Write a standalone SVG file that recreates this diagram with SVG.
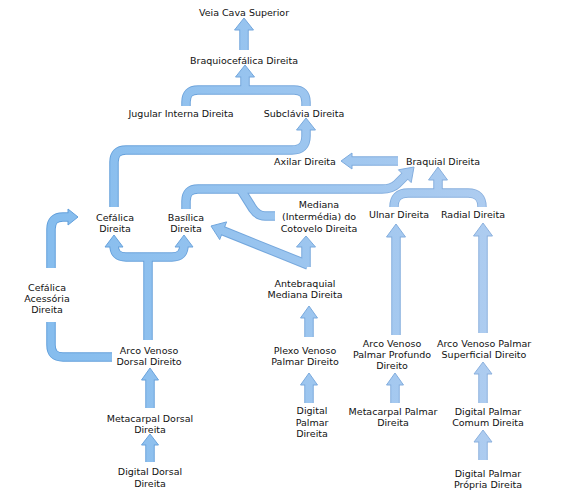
<svg xmlns="http://www.w3.org/2000/svg" width="562" height="502" viewBox="0 0 562 502">
<style>
text{font-family:"DejaVu Sans","Liberation Sans",sans-serif;font-size:9.5px;fill:#111;text-anchor:middle}
.ol{fill:none;stroke:url(#gl);stroke-width:9.5}
.in{fill:none;stroke:url(#gf);stroke-width:7.5}
.hd{fill:url(#gf);stroke:url(#gl);stroke-width:1;stroke-linejoin:miter}
</style>
<defs>
<linearGradient id="gf" gradientUnits="userSpaceOnUse" x1="60" y1="0" x2="520" y2="0">
<stop offset="0" stop-color="#86bdee"/><stop offset="1" stop-color="#b0cdf0"/>
</linearGradient>
<linearGradient id="gl" gradientUnits="userSpaceOnUse" x1="60" y1="0" x2="520" y2="0">
<stop offset="0" stop-color="#5f9edb"/><stop offset="1" stop-color="#8fb2de"/>
</linearGradient>
<path id="c1" d="M244,50 V28"/>
<path id="c2" d="M186,106 V102 Q186,90 198,90 H294 Q306,90 306,102 V106 M245,90 V75"/>
<path id="c3" d="M114,207 V162 Q114,150 126,150 H292 Q306,150 306,136 V128"/>
<path id="c4" d="M398,161 H350"/>
<path id="c5" d="M186,209 V201 Q186,189 198,189 H382 Q392,189 397,184 L406,175"/>
<path id="c6" d="M241,190 L253,209 Q258,216 265,216 H275"/>
<path id="c7" d="M308,265 L221,230"/>
<path id="c8" d="M306,267 V245"/>
<path id="c9" d="M394,207 Q394,193 408,193 H468 Q482,193 482,207 M438,193 V178"/>
<path id="c10" d="M396,335 V235"/>
<path id="c11" d="M483,333 V234"/>
<path id="c12" d="M51,268 V229 Q51,217 63,217 H70"/>
<path id="c13" d="M112,357 H63 Q51,357 51,345 V322"/>
<path id="c14" d="M148,340 V257 M114,245 Q114,257 126,257 H172 Q184,257 184,245"/>
<path id="c15" d="M150,408 V378"/>
<path id="c16" d="M150,462 V443"/>
<path id="c17" d="M309,337 V316"/>
<path id="c18" d="M309,403 V383"/>
<path id="c19" d="M395,403 V383"/>
<path id="c20" d="M483,403 V372"/>
<path id="c21" d="M483,460 V440"/>
</defs>
<rect width="562" height="502" fill="#ffffff"/>
<g id="connectors">
<g id="outlines">
<use href="#c1" class="ol"/><use href="#c2" class="ol"/><use href="#c3" class="ol"/><use href="#c4" class="ol"/>
<use href="#c5" class="ol"/><use href="#c6" class="ol"/><use href="#c7" class="ol"/><use href="#c8" class="ol"/>
<use href="#c9" class="ol"/><use href="#c10" class="ol"/><use href="#c11" class="ol"/><use href="#c12" class="ol"/>
<use href="#c13" class="ol"/><use href="#c14" class="ol"/><use href="#c15" class="ol"/><use href="#c16" class="ol"/>
<use href="#c17" class="ol"/><use href="#c18" class="ol"/><use href="#c19" class="ol"/><use href="#c20" class="ol"/>
<use href="#c21" class="ol"/>
</g>
<g id="heads">
<polygon class="hd" points="244,18 253.5,30 234.5,30"/>
<polygon class="hd" points="245,65 254.5,77 235.5,77"/>
<polygon class="hd" points="306,118 315.5,130 296.5,130"/>
<polygon class="hd" points="341,161 352,153 352,169"/>
<polygon class="hd" points="414,167 411.2,182.6 398.4,169.8"/>
<polygon class="hd" points="211,226 226.6,221.9 219.7,239.6"/>
<polygon class="hd" points="306,236 315.5,247 296.5,247"/>
<polygon class="hd" points="438,167 447.5,180 428.5,180"/>
<polygon class="hd" points="396,224 405.5,237 386.5,237"/>
<polygon class="hd" points="483,223 492.5,236 473.5,236"/>
<polygon class="hd" points="78,217 68,209 68,225"/>
<polygon class="hd" points="114,235 123,247 105,247"/>
<polygon class="hd" points="184,235 193,247 175,247"/>
<polygon class="hd" points="150,368 158.5,380 141.5,380"/>
<polygon class="hd" points="150,434 158.5,445 141.5,445"/>
<polygon class="hd" points="309,306 317.5,318 300.5,318"/>
<polygon class="hd" points="309,373 317.5,385 300.5,385"/>
<polygon class="hd" points="395,373 403.5,385 386.5,385"/>
<polygon class="hd" points="483,362 492,374 474,374"/>
<polygon class="hd" points="483,430 492,442 474,442"/>
</g>
<g id="fills">
<use href="#c1" class="in"/><use href="#c2" class="in"/><use href="#c3" class="in"/><use href="#c4" class="in"/>
<use href="#c5" class="in"/><use href="#c6" class="in"/><use href="#c7" class="in"/><use href="#c8" class="in"/>
<use href="#c9" class="in"/><use href="#c10" class="in"/><use href="#c11" class="in"/><use href="#c12" class="in"/>
<use href="#c13" class="in"/><use href="#c14" class="in"/><use href="#c15" class="in"/><use href="#c16" class="in"/>
<use href="#c17" class="in"/><use href="#c18" class="in"/><use href="#c19" class="in"/><use href="#c20" class="in"/>
<use href="#c21" class="in"/>
</g>
</g>
<g id="veia-cava-superior"><text x="244" y="15.5">Veia Cava Superior</text></g>
<g id="braquiocefalica"><text x="244" y="63.5">Braquiocefálica Direita</text></g>
<g id="jugular-interna"><text x="181" y="116.5">Jugular Interna Direita</text></g>
<g id="subclavia"><text x="304" y="116.5">Subclávia Direita</text></g>
<g id="axilar"><text x="305" y="164.5">Axilar Direita</text></g>
<g id="braquial"><text x="443" y="164.5">Braquial Direita</text></g>
<g id="cefalica"><text x="115" y="220.5">Cefálica</text><text x="115" y="231.5">Direita</text></g>
<g id="basilica"><text x="186" y="220.5">Basílica</text><text x="186" y="231.5">Direita</text></g>
<g id="mediana-cotovelo"><text x="319" y="207.5">Mediana</text><text x="319" y="219.5">(Intermédia) do</text><text x="319" y="231.5">Cotovelo Direita</text></g>
<g id="ulnar"><text x="399" y="217.5">Ulnar Direita</text></g>
<g id="radial"><text x="473" y="217.5">Radial Direita</text></g>
<g id="cefalica-acessoria"><text x="47" y="290.5">Cefálica</text><text x="47" y="301.5">Acessória</text><text x="47" y="312.5">Direita</text></g>
<g id="arco-venoso-dorsal"><text x="149" y="353.5">Arco Venoso</text><text x="149" y="364.5">Dorsal Direito</text></g>
<g id="metacarpal-dorsal"><text x="150" y="421.5">Metacarpal Dorsal</text><text x="150" y="432.5">Direita</text></g>
<g id="digital-dorsal"><text x="150" y="474.5">Digital Dorsal</text><text x="150" y="486.5">Direita</text></g>
<g id="antebraquial-mediana"><text x="305" y="286.5">Antebraquial</text><text x="305" y="297.5">Mediana Direita</text></g>
<g id="plexo-venoso-palmar"><text x="305" y="353.5">Plexo Venoso</text><text x="305" y="365">Palmar Direito</text></g>
<g id="digital-palmar"><text x="312" y="413.5">Digital</text><text x="312" y="425.5">Palmar</text><text x="312" y="437">Direita</text></g>
<g id="arco-palmar-profundo"><text x="392" y="346.5">Arco Venoso</text><text x="392" y="357.5">Palmar Profundo</text><text x="392" y="369">Direito</text></g>
<g id="arco-palmar-superficial"><text x="484" y="346.5">Arco Venoso Palmar</text><text x="484" y="357.5">Superficial Direito</text></g>
<g id="metacarpal-palmar"><text x="393" y="414.5">Metacarpal Palmar</text><text x="393" y="426">Direita</text></g>
<g id="digital-palmar-comum"><text x="488" y="414.5">Digital Palmar</text><text x="488" y="426">Comum Direita</text></g>
<g id="digital-palmar-propria"><text x="488" y="476.5">Digital Palmar</text><text x="488" y="488">Própria Direita</text></g>
</svg>
